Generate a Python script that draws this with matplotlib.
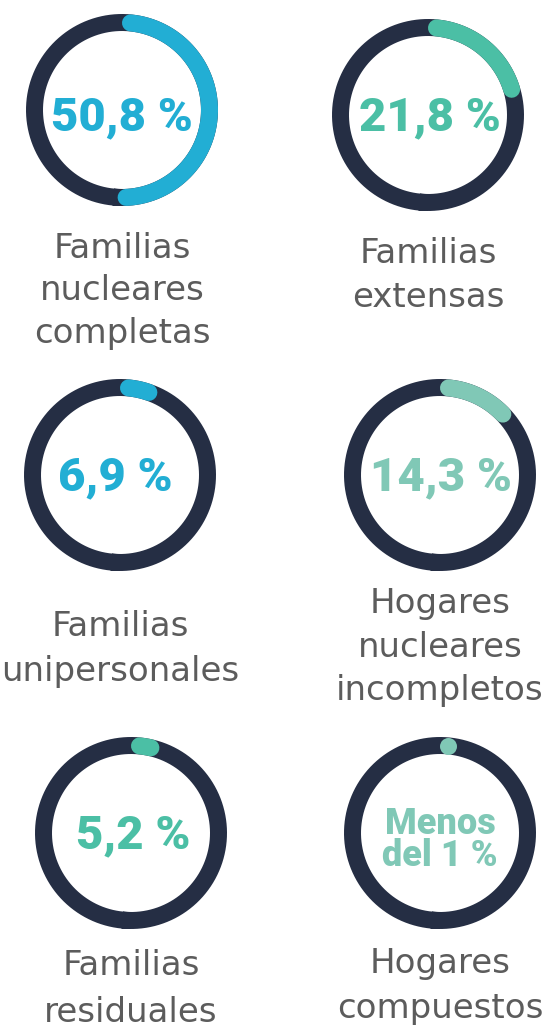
import numpy as np
import matplotlib
matplotlib.use("Agg")
import matplotlib.pyplot as plt

# ---- data ----
categories = [
    ["Familias", "nucleares", "completas"],
    ["Familias", "extensas"],
    ["Familias", "unipersonales"],
    ["Hogares", "nucleares", "incompletos"],
    ["Familias", "residuales"],
    ["Hogares", "compuestos"],
]
values = [50.8, 21.8, 6.9, 14.3, 5.2, 0.9]
value_labels = ["50,8 %", "21,8 %", "6,9 %", "14,3 %", "5,2 %", "Menos\ndel 1 %"]
colors = ["#22aed4", "#4bbfa5", "#22aed4", "#80c8b6", "#4bbfa5", "#80c8b6"]

# ---- layout (pixels) ----
W, H = 549, 1028
DPI = 100
RING_BG = "#252e44"
LABEL_COLOR = "#5c5c5c"
centers = [(122, 110), (428, 115), (120, 475), (440, 475), (131, 833), (440, 833)]
R_LINE = 87.5
LW_PX = 17
label_baselines = [[258, 300, 343], [263, 307], [636, 681], [613, 657, 700], [975, 1022], [973, 1018]]
label_x = [122, 428, 120, 440, 131, 440]
value_baseline = [130, 130, 490, 490, 848, 866]  # baseline of the last line
value_x = [122, 430, 115, 441, 133, 440]
value_sizes = [34, 34, 34, 34, 34, 26]

VALUE_FONT = ["Roboto", "DejaVu Sans"]
LABEL_FONT = ["DejaVu Sans"]

fig = plt.figure(figsize=(W / DPI, H / DPI), dpi=DPI)
fig.patch.set_facecolor("white")

AX = 200  # axes size in px
lw_pt = LW_PX * 72 / DPI
cap = (LW_PX / 2) / R_LINE

for i, (cx, cy) in enumerate(centers):
    ax = fig.add_axes([(cx - AX / 2) / W, 1 - (cy + AX / 2) / H, AX / W, AX / H], projection="polar")
    ax.set_theta_zero_location("N")
    ax.set_theta_direction(-1)
    ax.set_ylim(0, AX / 2)
    ax.axis("off")
    # background ring, seam placed at the bottom and overlapped
    th = np.linspace(np.pi, 3 * np.pi + 0.1, 420)
    ax.plot(th, np.full_like(th, R_LINE), color=RING_BG, lw=lw_pt, solid_capstyle="butt")
    t0 = cap
    t1 = values[i] / 100 * 2 * np.pi - cap
    if t1 > t0:
        ta = np.linspace(t0, t1, 200)
        ax.plot(ta, np.full_like(ta, R_LINE), color=colors[i], lw=lw_pt, solid_capstyle="round")
    else:
        ax.plot([t0], [R_LINE], marker="o", ms=lw_pt, color=colors[i], mew=0)

    fig.text(value_x[i] / W, 1 - value_baseline[i] / H, value_labels[i], ha="center", va="baseline",
             fontsize=value_sizes[i], fontweight="heavy", color=colors[i], family=VALUE_FONT,
             linespacing=0.87, multialignment="center")
    for line, yb in zip(categories[i], label_baselines[i]):
        fig.text(label_x[i] / W, 1 - yb / H, line, ha="center", va="baseline",
                 fontsize=24.5, color=LABEL_COLOR, family=LABEL_FONT)

fig.savefig("out.png", dpi=DPI, facecolor="white")
